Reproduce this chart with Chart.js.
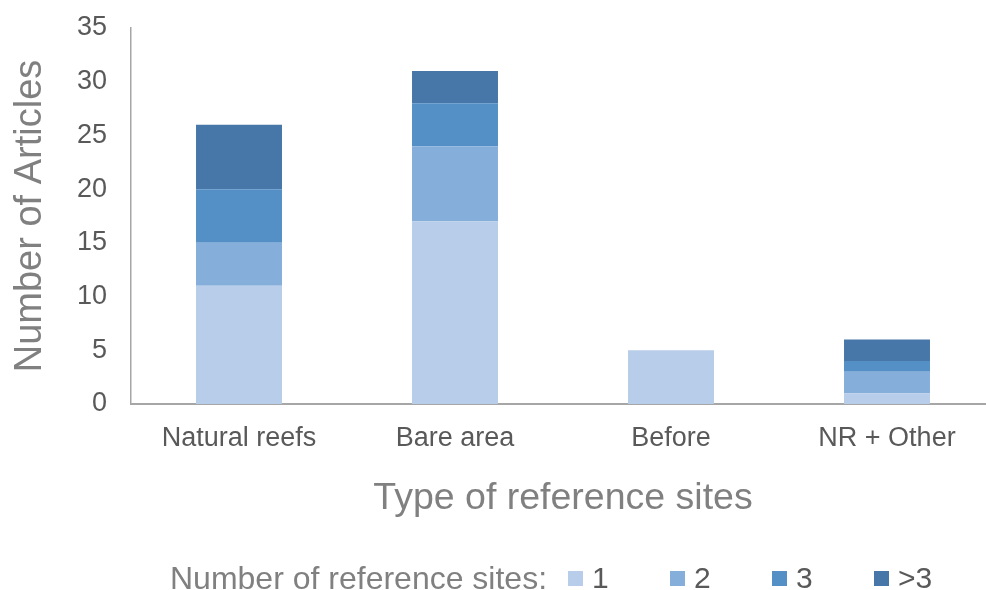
<!DOCTYPE html>
<html>
<head>
<meta charset="utf-8">
<script src="https://cdn.jsdelivr.net/npm/chart.js@4/dist/chart.umd.min.js"></script>
<style>
  html, body { margin: 0; padding: 0; background: #ffffff; overflow: hidden; }
  #wrap { position: relative; width: 986px; height: 590px; overflow: hidden; }
  #box { position: absolute; left: 0; top: 0; width: 996px; height: 590px; }
  #legend {
    position: absolute; left: 170px; top: 560px; height: 36px;
    display: flex; align-items: center;
    font-family: "Liberation Sans", Arial, sans-serif; font-size: 32px;
  }
  #legend .title { color: #808080; width: 398px; white-space: nowrap; }
  #legend .item { display: flex; align-items: center; width: 102px; color: #595959; font-size: 30px; }
  #legend .swatch { width: 15px; height: 15px; margin-right: 9px; }
</style>
</head>
<body>
<div id="wrap">
  <div id="box"><canvas id="chart"></canvas></div>
  <div id="legend"></div>
</div>
<script>
// Reference-site types and article counts per number of reference sites
const categories = ['Natural reefs', 'Bare area', 'Before', 'NR + Other'];
const sites1 = [11, 17, 5, 1];
const sites2 = [4, 7, 0, 2];
const sites3 = [5, 4, 0, 1];
const sitesMore = [6, 3, 0, 2];
const seriesLabels = ['1', '2', '3', '>3'];
const seriesColors = ['#b8cde9', '#85aedb', '#5490c6', '#4677a8'];
const yTicks = [0, 5, 10, 15, 20, 25, 30, 35];

const seriesValues = [sites1, sites2, sites3, sitesMore];
const datasets = seriesValues.map((vals, i) => ({
  label: seriesLabels[i],
  data: vals,
  backgroundColor: seriesColors[i],
  borderWidth: 0,
  barPercentage: 0.398,
  categoryPercentage: 1.0
}));

const FONT = '"Liberation Sans", Arial, sans-serif';

new Chart(document.getElementById('chart'), {
  type: 'bar',
  data: { labels: categories, datasets },
  options: {
    responsive: true,
    maintainAspectRatio: false,
    animation: false,
    layout: { padding: { top: 28, right: 1, bottom: 69, left: 0 } },
    plugins: { legend: { display: false }, tooltip: { enabled: false } },
    scales: {
      x: {
        stacked: true,
        grid: { display: false, drawTicks: false },
        border: { display: true, color: '#a6a6a6', width: 2 },
        ticks: { color: '#595959', font: { family: FONT, size: 27 }, padding: 18, maxRotation: 0 },
        title: { display: true, text: 'Type of reference sites', color: '#808080',
                 font: { family: FONT, size: 37.5 }, padding: 0 },
        afterFit: s => { s.height = 117; }
      },
      y: {
        stacked: true,
        min: 0, max: 35,
        afterBuildTicks: s => { s.ticks = yTicks.map(v => ({ value: v })); },
        grid: { display: false, drawTicks: false },
        border: { display: true, color: '#a6a6a6', width: 1.5 },
        ticks: { color: '#595959', font: { family: FONT, size: 27 }, padding: 24 },
        title: { display: true, text: 'Number of Articles', color: '#808080',
                 font: { family: FONT, size: 38 }, padding: { top: 8, bottom: 0 } },
        afterFit: s => { s.width = 131; s.paddingTop = 16; s.paddingBottom = 16; }
      }
    }
  }
});

// Legend row: caption followed by one swatch per series
const legend = document.getElementById('legend');
const cap = document.createElement('span');
cap.className = 'title';
cap.textContent = 'Number of reference sites:';
legend.appendChild(cap);
seriesLabels.forEach((lab, i) => {
  const item = document.createElement('span');
  item.className = 'item';
  const sw = document.createElement('span');
  sw.className = 'swatch';
  sw.style.background = seriesColors[i];
  const tx = document.createElement('span');
  tx.textContent = lab;
  item.appendChild(sw);
  item.appendChild(tx);
  legend.appendChild(item);
});
</script>
</body>
</html>
